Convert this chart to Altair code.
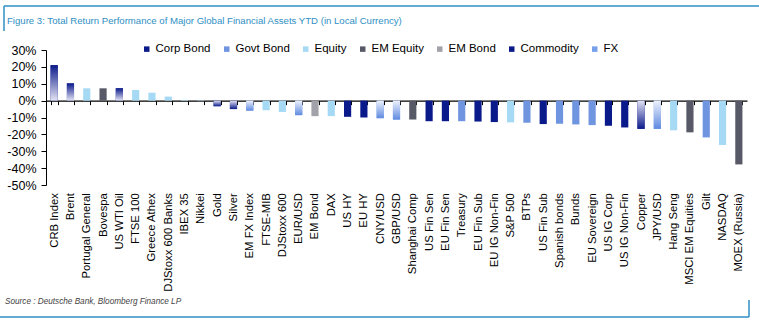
import altair as alt
import pandas as pd

names = ["CRB Index", "Brent", "Portugal General", "Bovespa", "US WTI Oil", "FTSE 100",
         "Greece Athex", "DJStoxx 600 Banks", "IBEX 35", "Nikkei", "Gold", "Silver",
         "EM FX Index", "FTSE-MIB", "DJStoxx 600", "EUR/USD", "EM Bond", "DAX", "US HY",
         "EU HY", "CNY/USD", "GBP/USD", "Shanghai Comp", "US Fin Sen", "EU Fin Sen",
         "Treasury", "EU Fin Sub", "EU IG Non-Fin", "S&P 500", "BTPs", "US Fin Sub",
         "Spanish bonds", "Bunds", "EU Sovereign", "US IG Corp", "US IG Non-Fin", "Copper",
         "JPY/USD", "Hang Seng", "MSCI EM Equities", "Gilt", "NASDAQ", "MOEX (Russia)"]
values = [21.0, 10.2, 7.3, 7.3, 7.3, 6.3,
          4.7, 2.4, 0.4, -0.3, -3.3, -5.0,
          -5.9, -5.7, -6.7, -8.6, -9.2, -9.2, -9.6,
          -10.0, -10.4, -11.2, -11.2, -12.2, -12.2,
          -12.2, -12.4, -12.7, -12.9, -13.1, -13.9,
          -13.7, -14.1, -14.5, -14.9, -15.9, -16.7,
          -16.7, -17.6, -18.8, -21.8, -26.3, -37.8]
groups = ["Commodity", "Commodity", "Equity", "EM Equity", "Commodity", "Equity",
          "Equity", "Equity", "Equity", "Equity", "Commodity", "Commodity",
          "FX", "Equity", "Equity", "FX", "EM Bond", "Equity", "Corp Bond",
          "Corp Bond", "FX", "FX", "EM Equity", "Corp Bond", "Corp Bond",
          "Govt Bond", "Corp Bond", "Corp Bond", "Equity", "Govt Bond", "Corp Bond",
          "Govt Bond", "Govt Bond", "Govt Bond", "Corp Bond", "Corp Bond", "Commodity",
          "FX", "Equity", "EM Equity", "Govt Bond", "Equity", "EM Equity"]

legend_order = ["Corp Bond", "Govt Bond", "Equity", "EM Equity", "EM Bond", "Commodity", "FX"]
legend_colors = ["#0b1a8a", "#6f94e0", "#a6daf4", "#575a66", "#a2a2aa", "#0b1a8a", "#76a0ea"]

title_text = "Figure 3: Total Return Performance of Major Global Financial Assets YTD (in Local Currency)"
source_text = "Source : Deutsche Bank, Bloomberg Finance LP"

df = pd.DataFrame({"name": names, "value": values, "group": groups})

W, H = 701, 135
zero_from_bottom = H * 50 / 80
FONT = "Liberation Sans"
TEAL = "#2f8fc4"

x_enc = alt.X(
    "name:N", sort=names,
    scale=alt.Scale(paddingInner=0.56, paddingOuter=0.28),
    axis=alt.Axis(title=None, orient="bottom", offset=-zero_from_bottom,
                  labelAngle=-90, labelAlign="right", labelBaseline="middle",
                  labelPadding=88, labelFont=FONT, labelFontSize=11.3,
                  labelColor="black", labelOverlap=False,
                  ticks=True, tickSize=4, tickColor="black", tickBand="extent",
                  domainColor="black", domainWidth=1.2),
)
y_enc = alt.Y(
    "value:Q",
    scale=alt.Scale(domain=[-50, 30], nice=False, zero=False),
    axis=alt.Axis(title=None, values=[-50, -40, -30, -20, -10, 0, 10, 20, 30],
                  labelExpr="datum.value + '%'", grid=False, tickSize=5,
                  tickColor="black", domainColor="black", labelColor="black",
                  labelFont=FONT, labelFontSize=12.5, labelPadding=5),
)

base = alt.Chart(df).mark_bar().encode(
    x=x_enc, y=y_enc,
    color=alt.Color("group:N",
                    scale=alt.Scale(domain=legend_order, range=legend_colors),
                    legend=alt.Legend(orient="none", legendX=95, legendY=-7,
                                      direction="horizontal", title=None,
                                      symbolType="square", symbolSize=30,
                                      symbolStrokeWidth=0, labelFont=FONT,
                                      labelFontSize=11.5, labelColor="black",
                                      columnPadding=10, labelOffset=3)),
)


def grad(top, bottom):
    return alt.Gradient(gradient="linear", x1=0, x2=0, y1=0, y2=1,
                        stops=[alt.GradientStop(color=top, offset=0),
                               alt.GradientStop(color=bottom, offset=1)])


com_pos = alt.Chart(df).transform_filter(
    (alt.datum.group == "Commodity") & (alt.datum.value >= 0)
).mark_bar(fill=grad("#0b1a8a", "#e4e4f3")).encode(x=x_enc, y=y_enc)

com_neg = alt.Chart(df).transform_filter(
    (alt.datum.group == "Commodity") & (alt.datum.value < 0)
).mark_bar(fill=grad("#e4e4f3", "#0b1a8a")).encode(x=x_enc, y=y_enc)

fx_neg = alt.Chart(df).transform_filter(
    (alt.datum.group == "FX")
).mark_bar(fill=grad("#eef2fc", "#5f8ae0")).encode(x=x_enc, y=y_enc)

one = pd.DataFrame({"a": [0]})

title = alt.Chart(pd.DataFrame({"t": [title_text]})).mark_text(
    align="left", baseline="alphabetic", font=FONT,
    fontSize=9.6, color=TEAL
).encode(text="t:N", x=alt.value(-39), y=alt.value(-26))

source = alt.Chart(pd.DataFrame({"t": [source_text]})).mark_text(
    align="left", baseline="alphabetic", font=FONT, fontStyle="italic",
    fontSize=8.2, color="#444444"
).encode(text="t:N", x=alt.value(-41), y=alt.value(254))

top_line = alt.Chart(one).mark_rule(color=TEAL, strokeWidth=1.5).encode(
    x=alt.value(-42), x2=alt.value(713), y=alt.value(-44))
left_line = alt.Chart(one).mark_rule(color=TEAL, strokeWidth=1.5).encode(
    x=alt.value(-42), y=alt.value(-44), y2=alt.value(-19))
bottom_line = alt.Chart(one).mark_rule(color=TEAL, strokeWidth=1.5).encode(
    x=alt.value(-46), x2=alt.value(703), y=alt.value(267))
right_line = alt.Chart(one).mark_rule(color=TEAL, strokeWidth=1.5).encode(
    x=alt.value(703), y=alt.value(250), y2=alt.value(267))

chart = alt.layer(
    base, com_pos, com_neg, fx_neg, title, source,
    top_line, left_line, bottom_line, right_line
).properties(
    width=W, height=H,
    padding={"left": 46, "top": 50, "right": 12, "bottom": 141},
    autosize=alt.AutoSizeParams(type="none"),
    background="white",
).configure_view(stroke=None)

chart.save("out.html", embed_options={"renderer": "svg", "actions": False})
